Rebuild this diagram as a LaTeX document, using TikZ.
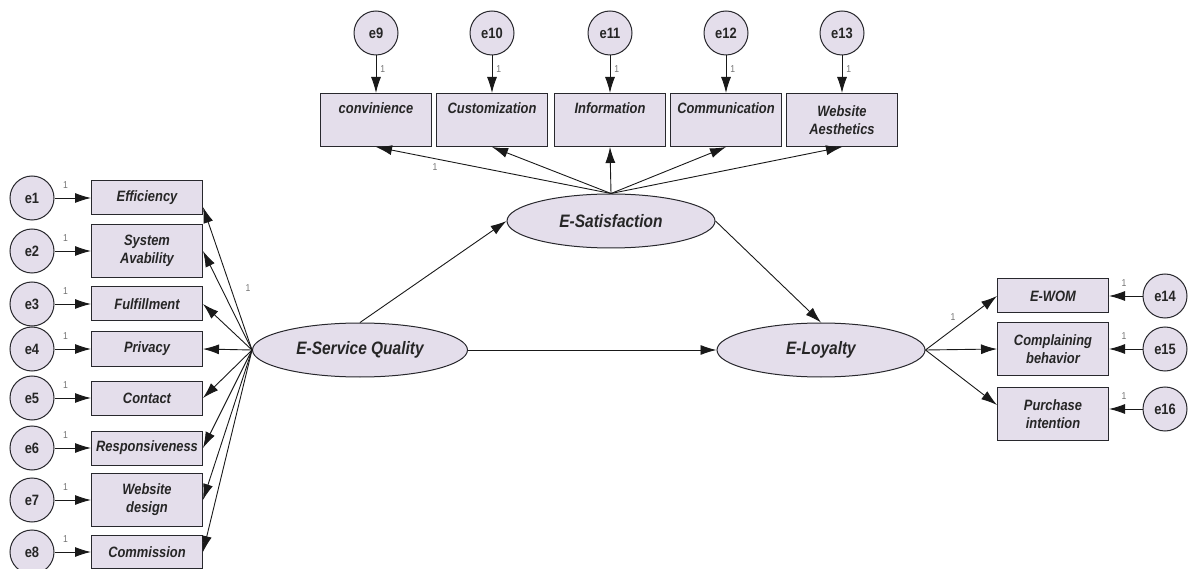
\documentclass[tikz,border=0pt]{standalone}
\usepackage{fontspec}
\setmainfont{Liberation Sans}[FakeStretch=0.86]
\usepackage{tikz}
\usetikzlibrary{arrows.meta,shapes.geometric}
\definecolor{semfill}{RGB}{228,222,235}
\definecolor{semline}{RGB}{40,40,45}

\begin{document}
\begin{tikzpicture}[
		x=1pt, y=-1pt,
		>={Latex[length=16pt,width=10pt]},
		font=\fontsize{15}{18}\selectfont\bfseries\itshape,
		item/.style={
			rectangle,
			draw=semline,
			line width=1pt,
			fill=semfill,
			text=black!85,
			align=center,
			inner sep=1pt,
			minimum width=111pt,
			minimum height=34pt
		},
		tall/.style={
			item,
			minimum height=53pt
		},
		err/.style={
			circle,
			draw=semline,
			line width=1pt,
			fill=semfill,
			text=black!85,
			inner sep=0pt,
			minimum size=44pt,
			font=\fontsize{15}{18}\selectfont\bfseries
		},
		latent/.style={
			ellipse,
			draw=semline,
			line width=1pt,
			fill=semfill,
			text=black!85,
			minimum height=54pt,
			font=\fontsize{18}{21}\selectfont\bfseries\itshape
		},
		link/.style={
			->,
			line width=0.9pt,
			draw=black!90
		},
		one/.style={
			inner sep=1pt,
			text=black!55,
			font=\fontsize{10}{11}\selectfont
		}
		]
		\useasboundingbox (0,0) rectangle (1189,569);
		
		% We start by placing the latent variables
		\node [latent, minimum width=215pt] (esq) at (360,350) {E-Service Quality};
		\node [latent, minimum width=208pt] (esat) at (611,221) {E-Satisfaction};
		\node [latent, minimum width=208pt] (eloy) at (821,350) {E-Loyalty};
		
		% indicators of e-service quality
		\node [item] (eff) at (147,198) {Efficiency};
		\node [tall] (sys) at (147,251) {System\\Avability};
		\node [item] (ful) at (147,304) {Fulfillment};
		\node [item] (pri) at (147,349) {Privacy};
		\node [item] (con) at (147,398) {Contact};
		\node [item] (res) at (147,448) {Responsiveness};
		\node [tall] (web) at (147,500) {Website\\design};
		\node [item, minimum height=33pt] (com) at (147,552) {Commission};
		
		% indicators of e-satisfaction
		\node [tall] (conv) at (376,120) {convinience\\[5pt]\mbox{}};
		\node [tall] (cust) at (492,120) {Customization\\[5pt]\mbox{}};
		\node [tall] (info) at (610,120) {Information\\[5pt]\mbox{}};
		\node [tall] (comm) at (726,120) {Communication\\[5pt]\mbox{}};
		\node [tall] (aest) at (842,120) {Website\\Aesthetics};
		
		% indicators of e-loyalty
		\node [item] (wom) at (1053,296) {E-WOM};
		\node [tall] (cmp) at (1053,349) {Complaining\\behavior};
		\node [tall] (pur) at (1053,414) {Purchase\\intention};
		
		% error terms
		\node [err] (e1) at (32,198) {e1};
		\node [err] (e2) at (32,251) {e2};
		\node [err] (e3) at (32,304) {e3};
		\node [err] (e4) at (32,349) {e4};
		\node [err] (e5) at (32,398) {e5};
		\node [err] (e6) at (32,448) {e6};
		\node [err] (e7) at (32,500) {e7};
		\node [err] (e8) at (32,552) {e8};
		\node [err] (e9) at (376,33) {e9};
		\node [err] (e10) at (492,33) {e10};
		\node [err] (e11) at (610,33) {e11};
		\node [err] (e12) at (726,33) {e12};
		\node [err] (e13) at (842,33) {e13};
		\node [err] (e14) at (1165,296) {e14};
		\node [err] (e15) at (1165,349) {e15};
		\node [err] (e16) at (1165,409) {e16};
		
		% fixed loadings
		\node [one] (fix1) at (248,288) {1};
		\node [one] (fix2) at (435,167) {1};
		\node [one] (fix3) at (953,317) {1};
		
		% structural paths
		\draw [link] (esq.north) -- (esat.west);
		\draw [link] (esq.east) -- (eloy.west);
		\draw [link] (esat.east) -- (eloy.north);
		
		% loadings
		\draw [link] (esq.west) -- ([yshift=-9pt]eff.east);
		\draw [link] (esq.west) -- (sys.east);
		\draw [link] (esq.west) -- (ful.east);
		\draw [link] (esq.west) -- (pri.east);
		\draw [link] (esq.west) -- (con.east);
		\draw [link] (esq.west) -- (res.east);
		\draw [link] (esq.west) -- (web.east);
		\draw [link] (esq.west) -- (com.east);
		\draw [link] (esat.north) -- (conv.south);
		\draw [link] (esat.north) -- (cust.south);
		\draw [link] (esat.north) -- (info.south);
		\draw [link] (esat.north) -- (comm.south);
		\draw [link] (esat.north) -- (aest.south);
		\draw [link] (eloy.east) -- (wom.west);
		\draw [link] (eloy.east) -- (cmp.west);
		\draw [link] (eloy.east) -- ([yshift=9pt]pur.west);
		
		% errors
		\draw [link] (e1) -- node [one, pos=0.3, above=8pt] {1} (eff);
		\draw [link] (e2) -- node [one, pos=0.3, above=8pt] {1} (sys);
		\draw [link] (e3) -- node [one, pos=0.3, above=8pt] {1} (ful);
		\draw [link] (e4) -- node [one, pos=0.3, above=8pt] {1} (pri);
		\draw [link] (e5) -- node [one, pos=0.3, above=8pt] {1} (con);
		\draw [link] (e6) -- node [one, pos=0.3, above=8pt] {1} (res);
		\draw [link] (e7) -- node [one, pos=0.3, above=8pt] {1} (web);
		\draw [link] (e8) -- node [one, pos=0.3, above=8pt] {1} (com);
		\draw [link] (e9) -- node [one, pos=0.35, right=3pt] {1} (conv);
		\draw [link] (e10) -- node [one, pos=0.35, right=3pt] {1} (cust);
		\draw [link] (e11) -- node [one, pos=0.35, right=3pt] {1} (info);
		\draw [link] (e12) -- node [one, pos=0.35, right=3pt] {1} (comm);
		\draw [link] (e13) -- node [one, pos=0.35, right=3pt] {1} (aest);
		\draw [link] (e14) -- node [one, pos=0.55, above=8pt] {1} (wom);
		\draw [link] (e15) -- node [one, pos=0.55, above=8pt] {1} (cmp);
		\draw [link] (e16) -- node [one, pos=0.55, above=8pt] {1} (e16 -| pur.east);
		
\end{tikzpicture}
\end{document}
